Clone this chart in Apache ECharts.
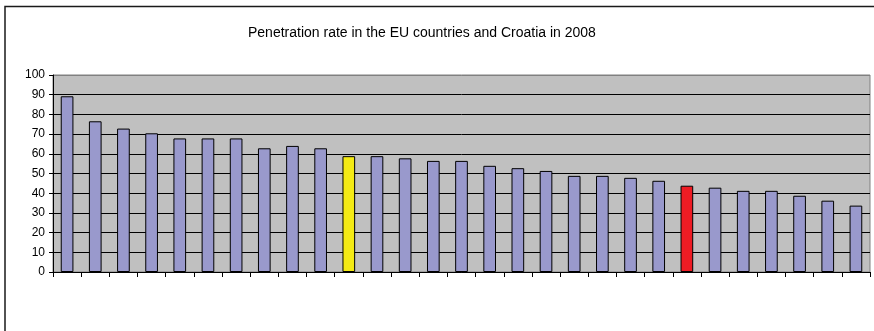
<!DOCTYPE html>
<html>
<head>
<meta charset="utf-8">
<script src="https://cdn.jsdelivr.net/npm/echarts@6/dist/echarts.min.js"></script>
<style>
  html, body { margin: 0; padding: 0; background: #ffffff; }
  #chart { width: 874px; height: 331px; }
</style>
</head>
<body>
<div id="chart"></div>
<script>
// Penetration rate (%) per country, ranked from highest to lowest
const categories = ['1','2','3','4','5','6','7','8','9','10','11','12','13','14','15',
  '16','17','18','19','20','21','22','23','24','25','26','27','28','29'];
const penetration = [89.2, 76.5, 72.8, 70.4, 67.8, 67.8, 67.8, 62.8, 64.0, 62.8,
  58.8, 58.8, 57.7, 56.4, 56.4, 53.9, 52.7, 51.3, 48.8, 48.8,
  47.8, 46.3, 43.8, 42.8, 41.2, 41.2, 38.7, 36.2, 33.7];
// Bars drawn in their own colour: EU average and Croatia
const euAverageIndex = 10;
const croatiaIndex = 22;
const yTicks = [0, 10, 20, 30, 40, 50, 60, 70, 80, 90, 100];

const barColor = '#9999cc';
const euColor = '#f4ea14';
const croatiaColor = '#ee1c24';

const chart = echarts.init(document.getElementById('chart'), null, { renderer: 'canvas' });

const seriesData = penetration.map((v, i) => {
  let color = barColor;
  if (i === euAverageIndex) color = euColor;
  if (i === croatiaIndex) color = croatiaColor;
  return { value: v, itemStyle: { color: color } };
});

// grid lines: black, except the top one which merges with the plot border
const splitColors = yTicks.map((t, i) => (i === yTicks.length - 1 ? '#808080' : '#000000'));

chart.setOption({
  animation: false,
  backgroundColor: '#ffffff',
  title: {
    text: 'Penetration rate in the EU countries and Croatia in 2008',
    left: 243,
    top: 21,
    textStyle: {
      fontFamily: 'Liberation Sans, Arial, sans-serif',
      fontSize: 14,
      fontWeight: 'normal',
      color: '#000000'
    }
  },
  grid: {
    left: 53,
    right: 4,
    top: 75,
    bottom: 59,
    show: true,
    backgroundColor: '#c0c0c0',
    borderColor: '#808080',
    borderWidth: 1
  },
  xAxis: {
    type: 'category',
    data: categories,
    boundaryGap: true,
    axisLine: { show: true, lineStyle: { color: '#000000', width: 1 } },
    axisTick: { show: true, length: 5, lineStyle: { color: '#000000' } },
    axisLabel: { show: false },
    splitLine: { show: false }
  },
  yAxis: {
    type: 'value',
    min: yTicks[0],
    max: yTicks[yTicks.length - 1],
    interval: 10,
    axisLine: { show: true, lineStyle: { color: '#000000', width: 1 } },
    axisTick: { show: true, length: 4, lineStyle: { color: '#000000' } },
    axisLabel: {
      margin: 8,
      fontFamily: 'Liberation Sans, Arial, sans-serif',
      fontSize: 12,
      color: '#000000'
    },
    splitLine: { show: true, lineStyle: { color: splitColors, width: 1 } }
  },
  series: [{
    type: 'bar',
    data: seriesData,
    barWidth: '45%',
    itemStyle: { borderColor: '#000000', borderWidth: 1 }
  }],
  graphic: [
    {
      type: 'polyline',
      shape: { points: [[5, 331], [5, 6.5], [874, 6.5]] },
      style: { stroke: '#1a1a1a', lineWidth: 1.5, fill: null },
      silent: true
    }
  ]
});
</script>
</body>
</html>
